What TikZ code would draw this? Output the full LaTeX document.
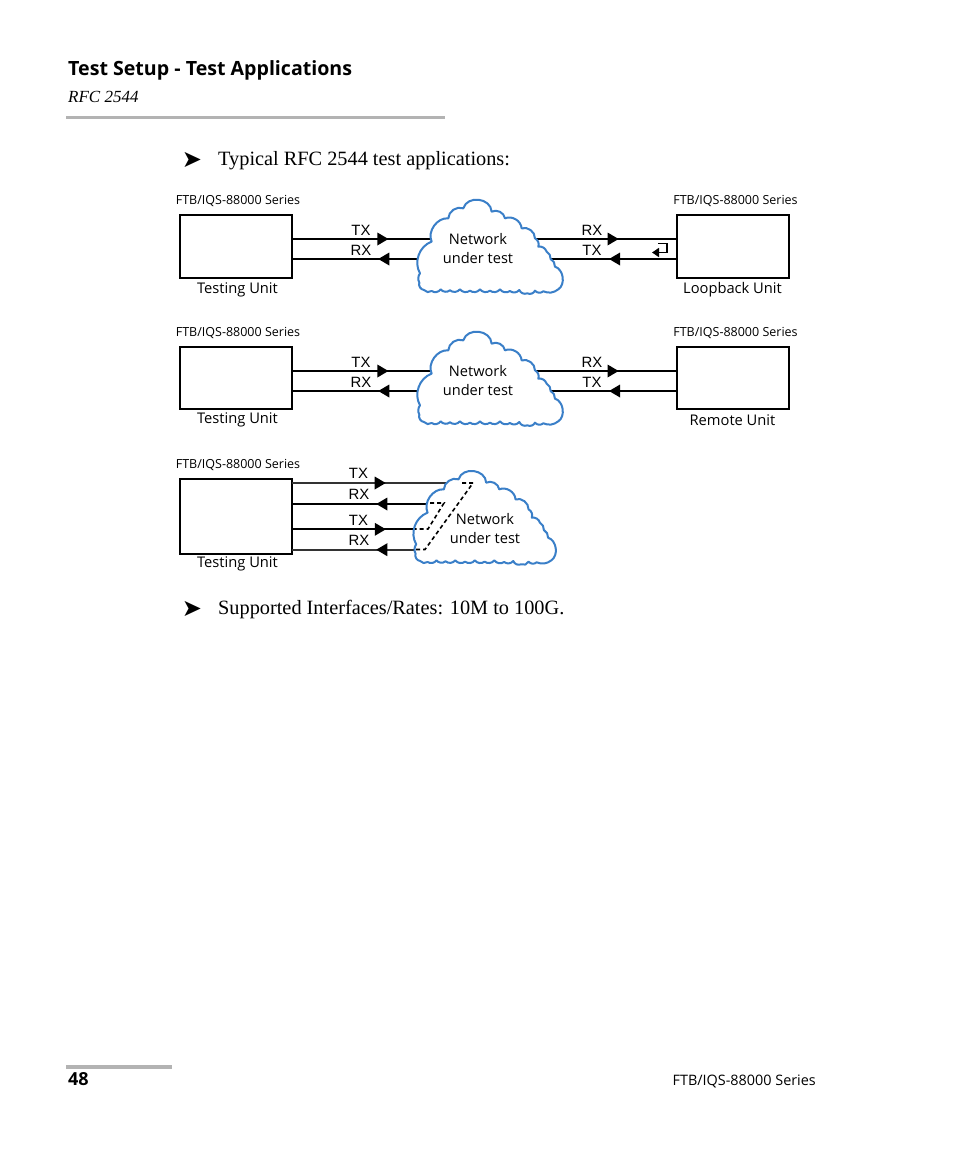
\documentclass[tikz,border=0pt]{standalone}
\usepackage{fontspec}
\setmainfont{Liberation Serif}
\newfontfamily\headfont{Open Sans}
\newfontfamily\wirefont{Liberation Sans}
\newfontfamily\symfont{DejaVu Sans}
\usetikzlibrary{decorations.markings,arrows.meta}
\definecolor{rulegray}{HTML}{B3B3B3}
\definecolor{cloudblue}{HTML}{3A7FC8}
\tikzset{
  unitbox/.style={draw=black,line width=1.6pt,fill=white,minimum width=112pt,inner sep=0pt,outer sep=0pt},
  wire/.style={draw=black,line width=1.8pt},
  thinwire/.style={draw=black!80,line width=1.7pt},
  fwdhead/.style={postaction={decorate},decoration={markings,mark=at position #1 with {\fill[black] (-5.5pt,-6.5pt)--(5.5pt,0pt)--(-5.5pt,6.5pt)--cycle;}}},
  cloudline/.style={draw=cloudblue,line width=2pt,fill=white,line join=round},
  dashline/.style={draw=black,line width=1.6pt,dash pattern=on 4pt off 3pt},
  series/.style={font=\headfont\fontsize{12.5}{13}\selectfont,inner sep=0pt},
  unitlabel/.style={font=\headfont\fontsize{14.7}{15}\selectfont,inner sep=0pt},
  wirelabel/.style={font=\wirefont\fontsize{14.9}{15}\selectfont,inner sep=0pt},
  cloudtext/.style={font=\headfont\fontsize{14.6}{19}\selectfont,inner sep=0pt,align=center},
  bodytext/.style={font=\fontsize{20.3}{22}\selectfont,inner sep=0pt,anchor=base west},
  bullet/.style={font=\symfont\fontsize{24}{25}\selectfont,inner sep=0pt},
  rulebar/.style={fill=rulegray,draw=none},
}
\newcommand{\cloudat}[3]{%
  \begin{scope}[shift={(#1,#2)},x=#3pt,y=-0.3333pt]
    \path[cloudline] (750,250)
      to[bend left=50] (785,155)
      to[bend left=60] (835,85)
      to[bend left=55] (880,55)
      to[bend left=80,looseness=1.25] (965,65)
      to[bend left=55] (1005,85)
      to[bend left=55] (1055,115)
      to[bend left=55] (1095,145)
      to[bend left=40] (1105,170)
      to[bend left=40] (1130,185)
      to[bend left=30] (1142,207)
      to[bend left=30] (1155,230)
      to[bend left=65] (1165,298)
      to[bend left=30] (1120,304)
      to[bend left=45] (1095,302)
      to[bend left=45] (1072,310)
      to[bend left=45] (1048,300)
      to[bend left=45] (1020,303)
      to[bend left=45] (990,298)
      to[bend left=45] (960,302)
      to[bend left=45] (930,298)
      to[bend left=45] (900,302)
      to[bend left=45] (870,298)
      to[bend left=45] (840,301)
      to[bend left=45] (812,298)
      to[bend left=45] (785,303)
      to[bend left=45] (762,300)
      to[bend left=50] (748,278)
      to[bend left=30] (750,250)
      -- cycle;
  \end{scope}}
\begin{document}
\begin{tikzpicture}[x=1pt,y=-1pt]
\useasboundingbox (0,0) rectangle (954,1159);
\fill[white] (0,0) rectangle (954,1159);
% page furniture
\node[font=\headfont\bfseries\fontsize{19.6}{20}\selectfont,inner sep=0pt,anchor=base west] (title) at (68,75) {Test Setup - Test Applications};
\node[font=\itshape\fontsize{17}{18}\selectfont,inner sep=0pt,anchor=base west] (sub) at (68,102.5) {RFC 2544};
\fill[rulebar] (66,116) rectangle (445,119);
\node[bullet] (b1) at (192,160) {➤};
\node[bodytext] (t1) at (218,165) {Typical RFC 2544 test applications:};
\node[bullet] (b2) at (192,608.5) {➤};
\node[bodytext] (t2) at (218,614) {Supported Interfaces/Rates: 10M to 100G.};
\fill[rulebar] (66,1065) rectangle (172,1068.5);
\node[font=\headfont\bfseries\fontsize{18}{19}\selectfont,inner sep=0pt,anchor=base west] (pg) at (68,1085) {48};
\node[font=\headfont\fontsize{14.4}{16}\selectfont,inner sep=0pt,anchor=base east] (ser) at (816,1085) {FTB/IQS-88000 Series};

% ---- row 1
\node[unitbox,minimum height=63pt] (A1) at (236,246.5) {};
\node[unitbox,minimum height=63pt] (B1) at (733,246.5) {};
\coordinate (A1t) at (A1.east |- 0,239); \coordinate (A1r) at (A1.east |- 0,259);
\coordinate (B1t) at (B1.west |- 0,239); \coordinate (B1r) at (B1.west |- 0,259);
\coordinate (C1a) at (440,239); \coordinate (C1b) at (425,259);
\coordinate (C1c) at (530,239); \coordinate (C1d) at (545,259);
\draw[wire,fwdhead=0.614] (A1t) -- (C1a);
\draw[wire,fwdhead=0.31] (C1b) -- (A1r);
\draw[wire,fwdhead=0.565] (C1c) -- (B1t);
\draw[wire,fwdhead=0.473] (B1r) -- (C1d);
\cloudat{170}{190}{0.3333}
\node[cloudtext] (N1) at (478,249) {Network\\under test};
\node[series] (s1) at (238,201) {FTB/IQS-88000 Series};
\node[series] (s2) at (735.5,201) {FTB/IQS-88000 Series};
\node[unitlabel] (u1) at (237.5,290) {Testing Unit};
\node[unitlabel] (u2) at (732.5,290) {Loopback Unit};
\node[wirelabel] (l1) at (361,230) {TX};
\node[wirelabel] (l2) at (361,250.5) {RX};
\node[wirelabel] (l3) at (592,230) {RX};
\node[wirelabel] (l4) at (592,250.5) {TX};
\coordinate (L1) at (658,243.5); \coordinate (L2) at (667,243.5); \coordinate (L3) at (667,252.5); \coordinate (L4) at (652,252.5);
\draw[black,line width=1.5pt,-{Triangle[length=7pt,width=9pt]}] (L1) -- (L2) -- (L3) -- (L4);

% ---- row 2
\node[unitbox,minimum height=62pt] (A2) at (236,378) {};
\node[unitbox,minimum height=62pt] (B2) at (733,378) {};
\coordinate (A2t) at (A2.east |- 0,371); \coordinate (A2r) at (A2.east |- 0,391);
\coordinate (B2t) at (B2.west |- 0,371); \coordinate (B2r) at (B2.west |- 0,391);
\coordinate (C2a) at (440,371); \coordinate (C2b) at (425,391);
\coordinate (C2c) at (530,371); \coordinate (C2d) at (545,391);
\draw[wire,fwdhead=0.614] (A2t) -- (C2a);
\draw[wire,fwdhead=0.31] (C2b) -- (A2r);
\draw[wire,fwdhead=0.565] (C2c) -- (B2t);
\draw[wire,fwdhead=0.473] (B2r) -- (C2d);
\cloudat{170}{322}{0.3333}
\node[cloudtext] (N2) at (478,381) {Network\\under test};
\node[series] (s3) at (238,333) {FTB/IQS-88000 Series};
\node[series] (s4) at (735.5,333) {FTB/IQS-88000 Series};
\node[unitlabel] (u3) at (237.5,420) {Testing Unit};
\node[unitlabel] (u4) at (732.5,420) {Remote Unit};
\node[wirelabel] (l5) at (361,362) {TX};
\node[wirelabel] (l6) at (361,382.5) {RX};
\node[wirelabel] (l7) at (592,362) {RX};
\node[wirelabel] (l8) at (592,382.5) {TX};

% ---- row 3
\node[unitbox,minimum height=75pt] (A3) at (236,516.5) {};
\coordinate (A3a) at (A3.east |- 0,483); \coordinate (A3b) at (A3.east |- 0,504);
\coordinate (A3c) at (A3.east |- 0,529.3); \coordinate (A3d) at (A3.east |- 0,549.7);
\coordinate (C3a) at (460,483); \coordinate (C3b) at (440,504);
\coordinate (C3c) at (425,529.3); \coordinate (C3d) at (425,549.7);
\draw[thinwire,fwdhead=0.525] (A3a) -- (C3a);
\draw[wire,fwdhead=0.393] (C3b) -- (A3b);
\draw[wire,fwdhead=0.664] (A3c) -- (C3c);
\draw[thinwire,fwdhead=0.325] (C3d) -- (A3d);
\cloudat{172}{461}{0.3256}
\coordinate (D1) at (462,483); \coordinate (D2) at (473,483); \coordinate (D3) at (425,549.5); \coordinate (D4) at (413,549.5);
\coordinate (E1) at (430,503); \coordinate (E2) at (444,503); \coordinate (E3) at (428,529); \coordinate (E4) at (415,529);
\draw[dashline] (D1) -- (D2) -- (D3) -- (D4);
\draw[dashline] (E1) -- (E2) -- (E3) -- (E4);
\node[cloudtext] (N3) at (485,529) {Network\\under test};
\node[series] (s5) at (238,464.5) {FTB/IQS-88000 Series};
\node[unitlabel] (u5) at (237.5,564) {Testing Unit};
\node[wirelabel] (l9) at (358.5,473) {TX};
\node[wirelabel] (l10) at (359,494) {RX};
\node[wirelabel] (l11) at (358.5,520) {TX};
\node[wirelabel] (l12) at (359,540) {RX};
\end{tikzpicture}
\end{document}
